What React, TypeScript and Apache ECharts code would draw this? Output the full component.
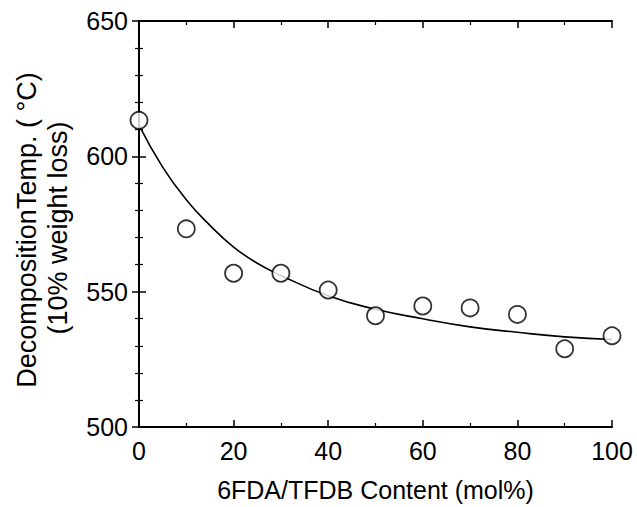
import React, { useEffect, useRef } from "react";
import * as echarts from "echarts";

const contentMol = [0, 10, 20, 30, 40, 50, 60, 70, 80, 90, 100];
const decompTemp = [613.3, 573.2, 556.8, 556.8, 550.6, 541.1, 544.7, 544.0, 541.6, 528.9, 533.7];
const fitX = [0, 5, 10, 15, 20, 25, 30, 40, 50, 60, 70, 80, 90, 100];
const fitY = [611.5, 596, 584, 574.5, 566.5, 560.5, 556, 548.5, 543.5, 540, 537, 535, 533.3, 532.3];
const xTicks = [0, 20, 40, 60, 80, 100];
const yTicks = [500, 550, 600, 650];

const FONT = "Liberation Sans, Arial, Helvetica, sans-serif";

export default function App() {
  const ref = useRef<HTMLDivElement>(null);
  useEffect(() => {
    document.body.style.margin = "0";
    const chart = echarts.init(ref.current!, null, { renderer: "svg" });
    const axisLine = { show: true, lineStyle: { color: "#000", width: 2 } };
    const tickBase = { show: true, inside: true, length: 7, lineStyle: { color: "#000", width: 1.5 } };
    const minor = { show: true, splitNumber: 2, length: 4, lineStyle: { color: "#000", width: 1.2 } };
    const yMinor = { show: true, splitNumber: 5, length: 4, lineStyle: { color: "#000", width: 1.2 } };
    chart.setOption({
      animation: false,
      backgroundColor: "#fff",
      grid: { left: 139, right: 25, top: 21, bottom: 76, show: false },
      xAxis: [
        {
          type: "value", min: 0, max: 100, interval: 20, position: "bottom",
          axisLine, axisTick: tickBase, minorTick: minor, splitLine: { show: false },
          axisLabel: {
            color: "#000", fontSize: 25, fontFamily: FONT, margin: 11,
            formatter: (v: number) => (xTicks.includes(v) ? String(v) : ""),
          },
          name: "6FDA/TFDB Content (mol%)", nameLocation: "middle", nameGap: 50,
          nameTextStyle: { color: "#000", fontSize: 25, fontFamily: FONT },
        },
        {
          type: "value", min: 0, max: 100, interval: 20, position: "top",
          axisLine, axisTick: tickBase, minorTick: minor, splitLine: { show: false },
          axisLabel: { show: false },
        },
      ],
      yAxis: [
        {
          type: "value", min: 500, max: 650, interval: 50, position: "left",
          axisLine, axisTick: tickBase, minorTick: yMinor, splitLine: { show: false },
          axisLabel: {
            color: "#000", fontSize: 25, fontFamily: FONT, margin: 11,
            formatter: (v: number) => (yTicks.includes(v) ? String(v) : ""),
          },
        },
        {
          type: "value", min: 500, max: 650, interval: 50, position: "right",
          axisLine, axisTick: tickBase, minorTick: yMinor, splitLine: { show: false },
          axisLabel: { show: false },
        },
      ],
      graphic: [
        {
          type: "text", x: 27, y: 230, rotation: Math.PI / 2,
          style: {
            text: "DecompositionTemp. ( °C)", fill: "#000", fontSize: 27, fontFamily: FONT,
            textAlign: "center", textVerticalAlign: "middle",
          },
        },
        {
          type: "text", x: 58, y: 228, rotation: Math.PI / 2,
          style: {
            text: "(10% weight loss)", fill: "#000", fontSize: 27, fontFamily: FONT,
            textAlign: "center", textVerticalAlign: "middle",
          },
        },
      ],
      series: [
        {
          type: "line", data: fitX.map((x, i) => [x, fitY[i]]), smooth: true,
          showSymbol: false, symbol: "none", lineStyle: { color: "#000", width: 1.6 }, z: 2,
        },
        {
          type: "scatter", data: contentMol.map((x, i) => [x, decompTemp[i]]),
          symbol: "circle", symbolSize: 17,
          itemStyle: { color: "#fff", borderColor: "#000", borderWidth: 1.8 }, z: 3,
        },
      ],
    });
    return () => chart.dispose();
  }, []);
  return <div ref={ref} style={{ width: 637, height: 507 }} />;
}
